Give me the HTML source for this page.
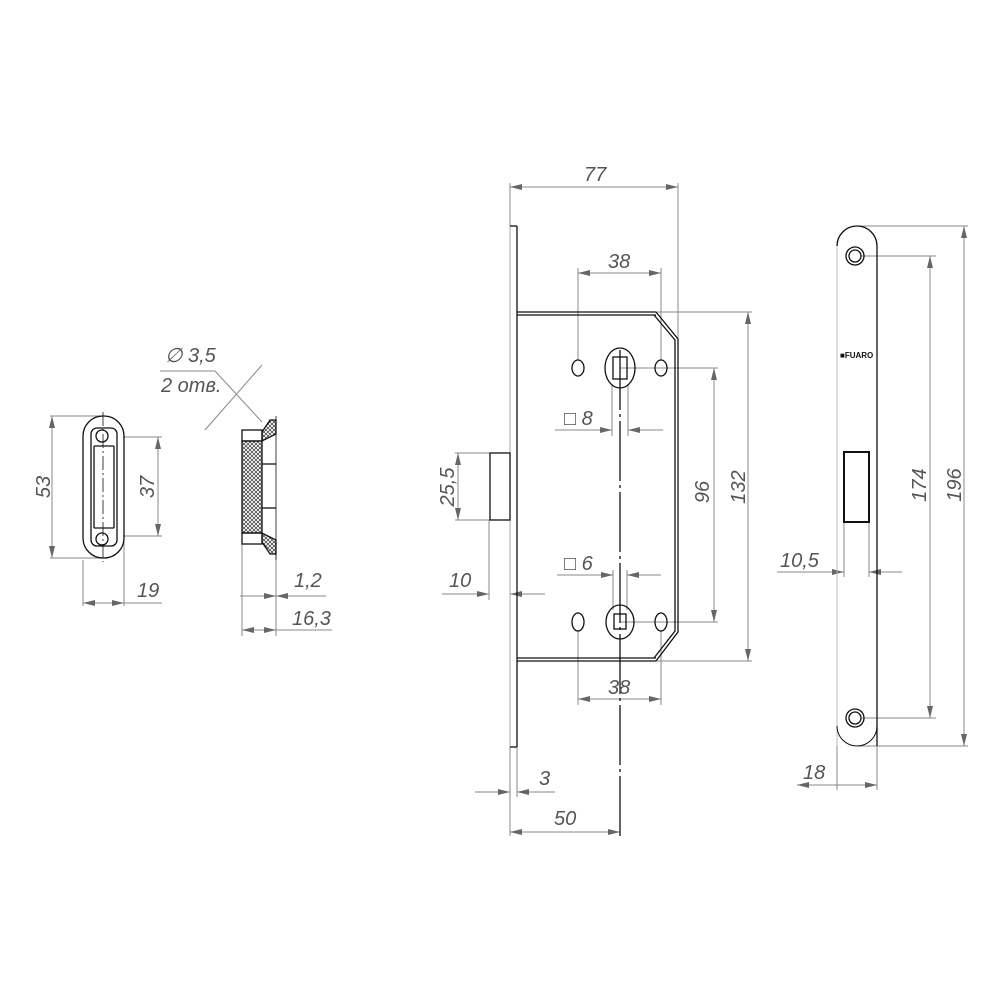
<!DOCTYPE html>
<html><head><style>body{margin:0;background:#fff}svg{display:block}
text{font-family:"Liberation Sans",sans-serif;font-style:italic;font-size:20px;fill:#555}</style></head>
<body>
<svg width="1000" height="1000" viewBox="0 0 1000 1000" xmlns="http://www.w3.org/2000/svg">
<defs>
<marker id="a" viewBox="0 0 12 6" refX="12" refY="3" markerWidth="12" markerHeight="6" orient="auto-start-reverse" markerUnits="userSpaceOnUse"><path d="M0,0L12,3L0,6z" fill="#666"/></marker>
<pattern id="h" width="4" height="4" patternUnits="userSpaceOnUse"><path d="M0,0L4,4M4,0L0,4" stroke="#333" stroke-width="0.7"/></pattern>
</defs>
<g stroke="#888" stroke-width="1" fill="none">
<line x1="50" y1="416" x2="103" y2="416"/><line x1="50" y1="558" x2="103" y2="558"/>
<line x1="52" y1="416" x2="52" y2="558" marker-start="url(#a)" marker-end="url(#a)"/>
<line x1="123" y1="437" x2="162" y2="437"/><line x1="123" y1="536" x2="162" y2="536"/>
<line x1="158" y1="437" x2="158" y2="536" marker-start="url(#a)" marker-end="url(#a)"/>
<line x1="83" y1="560" x2="83" y2="606"/><line x1="124" y1="540" x2="124" y2="606"/>
<line x1="83" y1="603" x2="124" y2="603" marker-start="url(#a)" marker-end="url(#a)"/>
<line x1="124" y1="603" x2="162" y2="603"/>
<line x1="242" y1="430" x2="242" y2="636"/><line x1="276" y1="548" x2="276" y2="636"/>
<line x1="240" y1="596" x2="326" y2="596"/>
<line x1="262" y1="596" x2="276" y2="596" marker-end="url(#a)"/>
<line x1="292" y1="596" x2="276" y2="596" marker-end="url(#a)"/>
<line x1="242" y1="630" x2="276" y2="630" marker-start="url(#a)" marker-end="url(#a)"/>
<line x1="276" y1="630" x2="332" y2="630"/>
<line x1="160" y1="371" x2="215" y2="371"/><line x1="215" y1="371" x2="262" y2="422"/>
<line x1="205" y1="430" x2="262" y2="365"/>
<line x1="510" y1="183" x2="510" y2="226"/><line x1="678" y1="183" x2="678" y2="338"/>
<line x1="510" y1="187" x2="678" y2="187" marker-start="url(#a)" marker-end="url(#a)"/>
<line x1="578" y1="268" x2="578" y2="360"/><line x1="661" y1="268" x2="661" y2="360"/>
<line x1="578" y1="273" x2="661" y2="273" marker-start="url(#a)" marker-end="url(#a)"/>
<line x1="656" y1="312" x2="752" y2="312"/><line x1="656" y1="661" x2="752" y2="661"/>
<line x1="748" y1="312" x2="748" y2="661" marker-start="url(#a)" marker-end="url(#a)"/>
<line x1="620" y1="368" x2="718" y2="368"/><line x1="620" y1="622" x2="718" y2="622"/>
<line x1="714" y1="368" x2="714" y2="622" marker-start="url(#a)" marker-end="url(#a)"/>
<line x1="555" y1="430" x2="612" y2="430" marker-end="url(#a)"/><line x1="663" y1="430" x2="628" y2="430" marker-end="url(#a)"/>
<line x1="612" y1="385" x2="612" y2="436"/><line x1="628" y1="385" x2="628" y2="436"/>
<line x1="557" y1="575" x2="613" y2="575" marker-end="url(#a)"/><line x1="661" y1="575" x2="627" y2="575" marker-end="url(#a)"/>
<line x1="613" y1="570" x2="613" y2="610"/><line x1="627" y1="570" x2="627" y2="610"/>
<line x1="578" y1="630" x2="578" y2="705"/><line x1="661" y1="630" x2="661" y2="705"/>
<line x1="578" y1="699" x2="661" y2="699" marker-start="url(#a)" marker-end="url(#a)"/>
<line x1="455" y1="453" x2="510" y2="453"/><line x1="455" y1="520" x2="490" y2="520"/>
<line x1="458" y1="453" x2="458" y2="520" marker-start="url(#a)" marker-end="url(#a)"/>
<line x1="489" y1="520" x2="489" y2="600"/>
<line x1="442" y1="594" x2="489" y2="594" marker-end="url(#a)"/><line x1="545" y1="594" x2="510" y2="594" marker-end="url(#a)"/>
<line x1="510" y1="745" x2="510" y2="836"/><line x1="517" y1="745" x2="517" y2="797"/>
<line x1="475" y1="792" x2="510" y2="792" marker-end="url(#a)"/><line x1="555" y1="792" x2="517" y2="792" marker-end="url(#a)"/>
<line x1="510" y1="832" x2="620" y2="832" marker-start="url(#a)" marker-end="url(#a)"/>
<line x1="857" y1="226" x2="968" y2="226"/><line x1="857" y1="746" x2="968" y2="746"/>
<line x1="964" y1="226" x2="964" y2="746" marker-start="url(#a)" marker-end="url(#a)"/>
<line x1="862" y1="256" x2="936" y2="256"/><line x1="862" y1="718" x2="936" y2="718"/>
<line x1="930" y1="256" x2="930" y2="718" marker-start="url(#a)" marker-end="url(#a)"/>
<line x1="844" y1="522" x2="844" y2="577"/><line x1="869" y1="522" x2="869" y2="577"/>
<line x1="777" y1="572" x2="844" y2="572" marker-end="url(#a)"/><line x1="902" y1="572" x2="869" y2="572" marker-end="url(#a)"/>
<line x1="837" y1="700" x2="837" y2="790"/><line x1="877" y1="740" x2="877" y2="790"/>
<line x1="797" y1="785" x2="877" y2="785" marker-start="url(#a)" marker-end="url(#a)"/>
<!-- light edges -->
<line x1="510" y1="226" x2="510" y2="747" stroke="#aaa"/>
<path d="M837,746 L837,246" stroke="#bbb"/>
</g>
<g stroke="#111" stroke-width="1.3" fill="none">
<rect x="83" y="416" width="41" height="142" rx="20"/>
<rect x="91" y="428" width="26" height="118" rx="6"/>
<line x1="94" y1="446" x2="114" y2="446"/><line x1="94" y1="528" x2="114" y2="528"/>
<line x1="94" y1="446" x2="94" y2="528"/><line x1="114" y1="446" x2="114" y2="528"/>
<circle cx="102" cy="436" r="6"/><circle cx="102" cy="539" r="6"/>
<line x1="103" y1="412" x2="103" y2="562" stroke-dasharray="14,3,2,3" stroke-width="0.8"/>
<rect x="242" y="441" width="20" height="92" fill="url(#h)"/>
<rect x="242" y="430" width="20" height="11"/><rect x="242" y="533" width="20" height="11"/>
<path d="M262,432 L270,420 L276,420 L276,434 L262,441 Z" fill="url(#h)"/>
<path d="M262,542 L270,554 L276,554 L276,540 L262,533 Z" fill="url(#h)"/>
<line x1="262" y1="464" x2="276" y2="464"/><line x1="262" y1="508" x2="276" y2="508"/>
<line x1="276" y1="416" x2="276" y2="560" stroke-width="0.8"/>
<line x1="517" y1="226" x2="517" y2="747"/>
<line x1="510" y1="226" x2="517" y2="226"/><line x1="510" y1="747" x2="517" y2="747"/>
<line x1="517" y1="312" x2="656" y2="312"/><line x1="517" y1="315" x2="656" y2="315"/>
<line x1="517" y1="661" x2="656" y2="661"/><line x1="517" y1="658" x2="656" y2="658"/>
<path d="M656,312 L678,339 L678,632 L656,661"/>
<path d="M654,315 L675,340 L675,631 L654,658"/>
<rect x="490" y="453" width="20" height="67"/>
<ellipse cx="620" cy="368" rx="15" ry="20"/><rect x="613" y="357" width="14" height="22"/>
<ellipse cx="620" cy="622" rx="14" ry="17"/><rect x="614" y="614" width="12" height="15"/>
<line x1="620" y1="350" x2="620" y2="840" stroke-dasharray="60,4,3,4"/>
<ellipse cx="578" cy="368" rx="6" ry="8"/><ellipse cx="661" cy="368" rx="6" ry="8"/>
<ellipse cx="578" cy="622" rx="6" ry="9"/><ellipse cx="661" cy="622" rx="6" ry="9"/>
<path d="M837,246 A20,20 0 0 1 877,246 L877,746"/>
<path d="M837,726 A20,20 0 0 0 877,726" stroke-width="1"/>
<circle cx="855" cy="256" r="9"/><circle cx="855" cy="256" r="6"/>
<circle cx="855" cy="718" r="9"/><circle cx="855" cy="718" r="6"/>
<rect x="844" y="452" width="25" height="70" stroke-width="2"/>
</g>
<text x="840" y="358" style="font-size:8px;font-style:normal;font-weight:bold;fill:#111">■FUARO</text>
<text x="165" y="362">∅ 3,5</text><text x="161" y="392">2 отв.</text>
<text transform="translate(50,487) rotate(-90)" text-anchor="middle">53</text>
<text transform="translate(154,487) rotate(-90)" text-anchor="middle">37</text>
<text x="137" y="597">19</text><text x="294" y="587">1,2</text><text x="292" y="625">16,3</text>
<text x="584" y="181">77</text><text x="608" y="268">38</text>
<text x="564" y="425">□ 8</text><text x="564" y="570">□ 6</text>
<text x="608" y="694">38</text>
<text transform="translate(709,492) rotate(-90)" text-anchor="middle">96</text>
<text transform="translate(745,487) rotate(-90)" text-anchor="middle">132</text>
<text transform="translate(454,487) rotate(-90)" text-anchor="middle">25,5</text>
<text x="449" y="587">10</text><text x="539" y="785">3</text><text x="554" y="825">50</text>
<text x="780" y="567">10,5</text><text x="803" y="779">18</text>
<text transform="translate(926,485) rotate(-90)" text-anchor="middle">174</text>
<text transform="translate(961,485) rotate(-90)" text-anchor="middle">196</text>
</svg>
</body></html>
